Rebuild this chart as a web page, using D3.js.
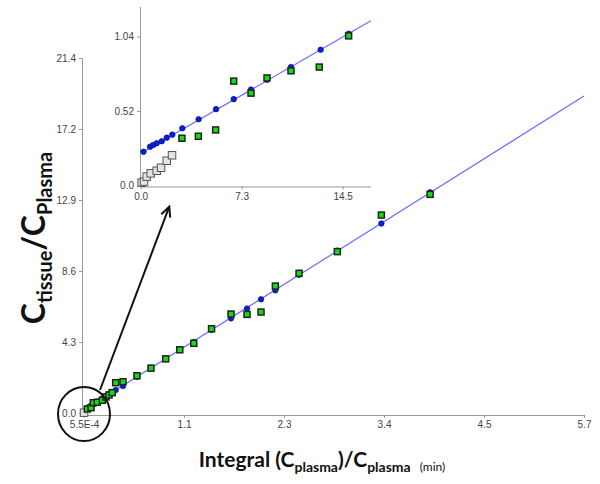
<!DOCTYPE html>
<html>
<head>
<meta charset="utf-8">
<script src="https://cdn.jsdelivr.net/npm/d3@7"></script>
<style>
  body { margin: 0; background: #fff; }
  svg { display: block; }
  .tick text { font-family: "Liberation Sans", Arial, sans-serif; font-size: 10px; fill: #444; }
  .axis path, .axis line { stroke: #999; }
</style>
</head>
<body>
<script>
// Main chart data: integral(Cp)/Cp vs Ct/Cp
const mainMeasX = [0.0375, 0.08, 0.106, 0.151, 0.208, 0.25, 0.284, 0.32, 0.36, 0.443, 0.602, 0.761, 0.928, 1.088, 1.247, 1.449, 1.67, 1.852, 2.011, 2.174, 2.443, 2.878, 3.378, 3.932];
const mainMeasY = [0.24, 0.32, 0.62, 0.65, 0.77, 0.97, 1.09, 1.23, 1.83, 1.89, 2.25, 2.71, 3.27, 3.82, 4.21, 5.09, 5.98, 5.96, 6.10, 7.67, 8.44, 9.75, 11.96, 13.21];
const mainFitY = [0.31, 0.45, 0.53, 0.69, 0.88, 1.02, 1.13, 1.26, 1.39, 1.63, 2.19, 2.72, 3.29, 3.82, 4.29, 5.03, 5.72, 6.31, 6.87, 7.41, 8.35, 9.81, 11.45, 13.33];
const mainExclX = [0.0005];
const mainExclY = [0.02];
const mainLineX = [0, 5.68];
const mainLineY = [0.18, 19.15];
const mainXTicks = [0.00055, 1.136, 2.272, 3.408, 4.544, 5.68];
const mainXLabels = ["5.5E-4", "1.1", "2.3", "3.4", "4.5", "5.7"];
const mainYTicks = [0, 4.29, 8.58, 12.87, 17.16, 21.45];
const mainYLabels = ["0.0", "4.3", "8.6", "12.9", "17.2", "21.4"];

// Inset (early time points)
const insetFitX = [0.2, 0.67, 0.9, 1.15, 1.51, 1.87, 2.27, 2.99, 4.16, 5.41, 6.68, 7.92, 9.07, 10.79, 12.92, 14.93];
const insetFitY = [0.236, 0.271, 0.283, 0.295, 0.309, 0.334, 0.355, 0.40, 0.463, 0.533, 0.603, 0.67, 0.738, 0.827, 0.948, 1.06];
const insetMeasX = [2.96, 4.14, 5.38, 6.68, 7.92, 9.07, 10.79, 12.82, 14.93];
const insetMeasY = [0.33, 0.344, 0.388, 0.729, 0.645, 0.751, 0.801, 0.827, 1.045];
const insetExclX = [0.07, 0.24, 0.43, 0.72, 1.15, 1.46, 1.87, 2.25];
const insetExclY = [0.02, 0.027, 0.062, 0.085, 0.103, 0.124, 0.173, 0.211];
const insetLineX = [0, 16.53];
const insetLineY = [0.225, 1.15];
const insetXTicks = [0, 7.25, 14.5];
const insetXLabels = ["0.0", "7.3", "14.5"];
const insetYTicks = [0, 0.52, 1.04];
const insetYLabels = ["0.0", "0.52", "1.04"];

const w = 600, h = 484;
const svg = d3.select("body").append("svg").attr("width", w).attr("height", h);

function panel(g, o) {
  const x = d3.scaleLinear().domain(o.xDomain).range(o.xRange);
  const y = d3.scaleLinear().domain(o.yDomain).range(o.yRange);

  g.append("g").attr("class", "axis")
    .attr("transform", `translate(0,${o.xAxisY})`)
    .call(d3.axisBottom(x).tickValues(o.xTicks).tickSize(3).tickSizeOuter(0)
      .tickFormat((d, i) => o.xLabels[i]));
  g.append("g").attr("class", "axis")
    .attr("transform", `translate(${o.yAxisX},0)`)
    .call(d3.axisLeft(y).tickValues(o.yTicks).tickSize(3).tickSizeOuter(0)
      .tickFormat((d, i) => o.yLabels[i]));

  g.append("path")
    .datum(o.lineX.map((v, i) => [v, o.lineY[i]]))
    .attr("d", d3.line().x(d => x(d[0])).y(d => y(d[1])))
    .attr("fill", "none").attr("stroke", "#6b6bff").attr("stroke-width", 1.2);

  const sq = (xs, ys, size, fill, stroke, sw) => {
    g.append("g").selectAll("rect")
      .data(xs.map((v, i) => [v, ys[i]]))
      .enter().append("rect")
      .attr("x", d => x(d[0]) - size / 2)
      .attr("y", d => y(d[1]) - size / 2)
      .attr("width", size).attr("height", size)
      .attr("fill", fill).attr("stroke", stroke).attr("stroke-width", sw);
  };

  sq(o.exclX, o.exclY, 7.5, "#e4e4e4", "#555", 1);
  g.append("g").selectAll("circle")
    .data(o.fitX.map((v, i) => [v, o.fitY[i]]))
    .enter().append("circle")
    .attr("cx", d => x(d[0])).attr("cy", d => y(d[1]))
    .attr("r", 2.8).attr("fill", "#0a1fd6").attr("stroke", "#05107a").attr("stroke-width", 0.6);
  sq(o.measX, o.measY, 6, "#11dd11", "#222", 1.5);
  return { x, y };
}

const main = panel(svg.append("g"), {
  xDomain: [0, 5.68], xRange: [84, 584],
  yDomain: [0, 21.45], yRange: [413, 58],
  xAxisY: 415, yAxisX: 82,
  xTicks: mainXTicks, xLabels: mainXLabels,
  yTicks: mainYTicks, yLabels: mainYLabels,
  lineX: mainLineX, lineY: mainLineY,
  fitX: mainMeasX, fitY: mainFitY,
  measX: mainMeasX, measY: mainMeasY,
  exclX: mainExclX, exclY: mainExclY
});

const inset = panel(svg.append("g"), {
  xDomain: [0, 16.5], xRange: [140.7, 370.5],
  yDomain: [0, 1.25], yRange: [185.5, 6.5],
  xAxisY: 186.5, yAxisX: 140,
  xTicks: insetXTicks, xLabels: insetXLabels,
  yTicks: insetYTicks, yLabels: insetYLabels,
  lineX: insetLineX, lineY: insetLineY,
  fitX: insetFitX, fitY: insetFitY,
  measX: insetMeasX, measY: insetMeasY,
  exclX: insetExclX, exclY: insetExclY
});

// Zoom annotation: circle round the origin, arrow up to the inset
const cx = main.x(0), cy = main.y(0) + 1, r = 27;
svg.append("ellipse").attr("cx", cx).attr("cy", cy).attr("rx", 26).attr("ry", r)
  .attr("fill", "none").attr("stroke", "#111").attr("stroke-width", 2);
const tipX = inset.x(2.05), tipY = inset.y(-0.148);
const sx = cx + 16, sy = cy - 24;
const ang = Math.atan2(tipY - sy, tipX - sx);
svg.append("line").attr("x1", sx).attr("y1", sy).attr("x2", tipX).attr("y2", tipY)
  .attr("stroke", "#111").attr("stroke-width", 2);
const head = [-0.45, 0.45].map(a => [tipX - 11 * Math.cos(ang + a), tipY - 11 * Math.sin(ang + a)]);
svg.append("path")
  .attr("d", `M${head[0][0]},${head[0][1]}L${tipX},${tipY}L${head[1][0]},${head[1][1]}`)
  .attr("fill", "none").attr("stroke", "#111").attr("stroke-width", 2);

// Axis titles
const titleFont = "Lato, 'Open Sans', sans-serif";
const xt = svg.append("text")
  .attr("x", 322).attr("y", 467).attr("text-anchor", "middle")
  .style("font-family", titleFont).style("font-weight", "bold").style("font-size", "21px").style("fill", "#111");
xt.append("tspan").text("Integral (C");
xt.append("tspan").attr("dy", 5).style("font-size", "14px").text("plasma");
xt.append("tspan").attr("dy", -5).text(")/C");
xt.append("tspan").attr("dy", 5).style("font-size", "14px").text("plasma");
xt.append("tspan").attr("dy", -1).attr("dx", 9).style("font-size", "12px").style("font-weight", "normal").text("(min)");

const yt = svg.append("text")
  .attr("transform", "translate(45,238) rotate(-90)").attr("text-anchor", "middle")
  .style("font-family", titleFont).style("font-weight", "bold").style("font-size", "32px").style("fill", "#111");
yt.append("tspan").text("C");
yt.append("tspan").attr("dy", 7).style("font-size", "20px").text("tissue");
yt.append("tspan").attr("dy", -7).text("/C");
yt.append("tspan").attr("dy", 7).style("font-size", "20px").text("Plasma");
</script>
</body>
</html>
